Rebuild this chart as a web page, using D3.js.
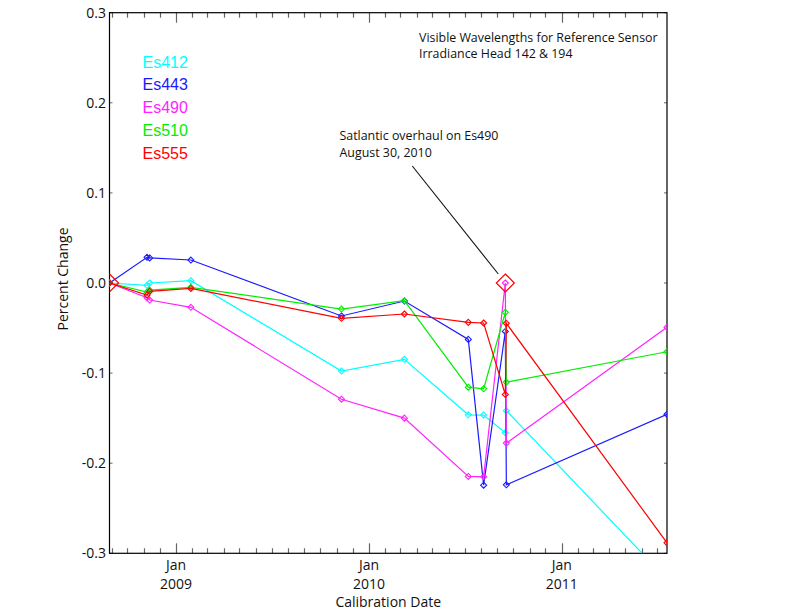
<!DOCTYPE html>
<html>
<head>
<meta charset="utf-8">
<script src="https://cdn.jsdelivr.net/npm/d3@7"></script>
<style>
  html, body { margin: 0; padding: 0; background: #fff; }
  svg { display: block; }
</style>
</head>
<body>
<svg id="chart" width="792" height="612"></svg>
<script>
// ---- data ----
const dates = ["2008-08-28", "2008-11-07", "2008-11-12", "2009-01-29", "2009-11-10",
               "2010-03-09", "2010-07-08", "2010-08-06", "2010-09-16", "2010-09-18", "2011-07-19"];
const seriesNames = ["Es412", "Es443", "Es490", "Es510", "Es555"];
const seriesColors = ["#00ffff", "#1a1aff", "#ff22ff", "#00ee00", "#ff0000"];
const es412 = [0, -0.0026, 0.0, 0.0026, -0.0977, -0.0847, -0.1463, -0.1466, -0.1663, -0.1418, -0.329];
const es443 = [0, 0.0285, 0.0278, 0.0255, -0.0366, -0.0200, -0.0626, -0.2244, -0.0538, -0.2240, -0.1458];
const es490 = [0, -0.0163, -0.0189, -0.0270, -0.1290, -0.1500, -0.2147, -0.2151, 0.0, -0.1777, -0.0492];
const es510 = [0, -0.0100, -0.0078, -0.0048, -0.0289, -0.0197, -0.1156, -0.1174, -0.0326, -0.1100, -0.0763];
const es555 = [0, -0.0133, -0.0093, -0.0060, -0.0392, -0.0344, -0.0437, -0.0444, -0.1237, -0.0448, -0.2884];
const seriesValues = [es412, es443, es490, es510, es555];
const yTicks = [-0.3, -0.2, -0.1, 0.0, 0.1, 0.2, 0.3];
const xDomain = ["2008-08-28", "2011-07-19"];
// highlighted points (large red diamonds): [date index, series index]
const highlights = [[0, 4], [8, 2]];
const titleLines = ["Visible Wavelengths for Reference Sensor", "Irradiance Head 142 & 194"];
const noteLines = ["Satlantic overhaul on Es490", "August 30, 2010"];

// ---- layout ----
const L = 109.5, R = 667, T = 12.7, B = 553.3;
const parse = d3.utcParse("%Y-%m-%d");
const x = d3.scaleUtc().domain(xDomain.map(parse)).range([L, R]);
const y = d3.scaleLinear().domain([-0.3, 0.3]).range([B, T]);
const font = "'Open Sans', sans-serif";

const svg = d3.select("#chart");
svg.append("defs").append("clipPath").attr("id", "plotclip")
  .append("rect").attr("x", L).attr("y", T).attr("width", R - L).attr("height", B - T);

// ticks
const gT = svg.append("g");
const months = d3.utcMonth.range(x.domain()[0], x.domain()[1]);
months.forEach(m => {
  const major = m.getUTCMonth() === 0;
  const len = major ? 10 : 5;
  const xx = Math.round(x(m)) + 0.5;
  gT.append("line").attr("x1", xx).attr("x2", xx).attr("y1", B).attr("y2", B - len)
    .attr("stroke", "#666").attr("stroke-width", 1.2);
  gT.append("line").attr("x1", xx).attr("x2", xx).attr("y1", T).attr("y2", T + len)
    .attr("stroke", "#666").attr("stroke-width", 1.2);
  if (major) {
    gT.append("text").attr("x", x(m)).attr("y", 570).attr("text-anchor", "middle")
      .attr("font-family", font).attr("font-size", 14).attr("fill", "#111").text("Jan");
    gT.append("text").attr("x", x(m)).attr("y", 589).attr("text-anchor", "middle")
      .attr("font-family", font).attr("font-size", 14).attr("fill", "#111")
      .text(d3.utcFormat("%Y")(m));
  }
});
yTicks.forEach(v => {
  const yy = y(v);
  gT.append("line").attr("x1", L).attr("x2", L + 3).attr("y1", yy).attr("y2", yy).attr("stroke", "#666");
  gT.append("line").attr("x1", R).attr("x2", R - 3).attr("y1", yy).attr("y2", yy).attr("stroke", "#666");
  gT.append("text").attr("x", 106).attr("y", yy + 5).attr("text-anchor", "end")
    .attr("font-family", font).attr("font-size", 14).attr("fill", "#111")
    .text(d3.format(".1f")(v).replace("−", "-"));
});

// frame
svg.append("rect").attr("x", L).attr("y", T).attr("width", R - L).attr("height", B - T)
  .attr("fill", "none").attr("stroke", "#000").attr("stroke-width", 1.2);

// series
const plot = svg.append("g").attr("clip-path", "url(#plotclip)");
const line = d3.line().x(d => x(d.date)).y(d => y(d.value));
const diamond = (cx, cy, r) => `M${cx},${cy - r}L${cx + r},${cy}L${cx},${cy + r}L${cx - r},${cy}Z`;
seriesNames.forEach((name, si) => {
  const pts = dates.map((d, i) => ({ date: parse(d), value: seriesValues[si][i] }));
  plot.append("path").datum(pts).attr("d", line).attr("fill", "none")
    .attr("stroke", seriesColors[si]).attr("stroke-width", 1.2);
  plot.selectAll(null).data(pts).enter().append("path")
    .attr("d", d => diamond(x(d.date), y(d.value), 3))
    .attr("fill", "none").attr("stroke", seriesColors[si]).attr("stroke-width", 1.1);
});
highlights.forEach(([di, si]) => {
  const cx = x(parse(dates[di])), cy = y(seriesValues[si][di]);
  plot.append("path").attr("d", diamond(cx, cy, 9)).attr("fill", "none")
    .attr("stroke", "#ff0000").attr("stroke-width", 1.2);
});

// legend
seriesNames.forEach((name, si) => {
  svg.append("text").attr("x", 142.5).attr("y", 67.5 + si * 22.75)
    .attr("font-family", "'Liberation Sans', Arial, sans-serif").attr("font-size", 16)
    .attr("fill", seriesColors[si]).text(name);
});

// annotations
titleLines.forEach((t, i) => {
  svg.append("text").attr("x", 419).attr("y", 41.5 + i * 16).attr("font-family", font)
    .attr("font-size", 12.4).attr("fill", "#111").text(t);
});
noteLines.forEach((t, i) => {
  svg.append("text").attr("x", 339.5).attr("y", 139.5 + i * 17.5).attr("font-family", font)
    .attr("font-size", 12.4).attr("fill", "#111").text(t);
});
const hl = highlights[1];
const hx = x(parse(dates[hl[0]])), hy = y(seriesValues[hl[1]][hl[0]]);
svg.append("line").attr("x1", 412.3).attr("y1", 166).attr("x2", hx - 7).attr("y2", hy - 9)
  .attr("stroke", "#111").attr("stroke-width", 1.1);

// axis titles
svg.append("text").attr("x", (L + R) / 2).attr("y", 607).attr("text-anchor", "middle")
  .attr("font-family", font).attr("font-size", 14).attr("fill", "#111").text("Calibration Date");
svg.append("text").attr("transform", `translate(68,${(T + B) / 2 - 4}) rotate(-90)`)
  .attr("text-anchor", "middle").attr("font-family", font).attr("font-size", 14)
  .attr("fill", "#111").text("Percent Change");
</script>
</body>
</html>
